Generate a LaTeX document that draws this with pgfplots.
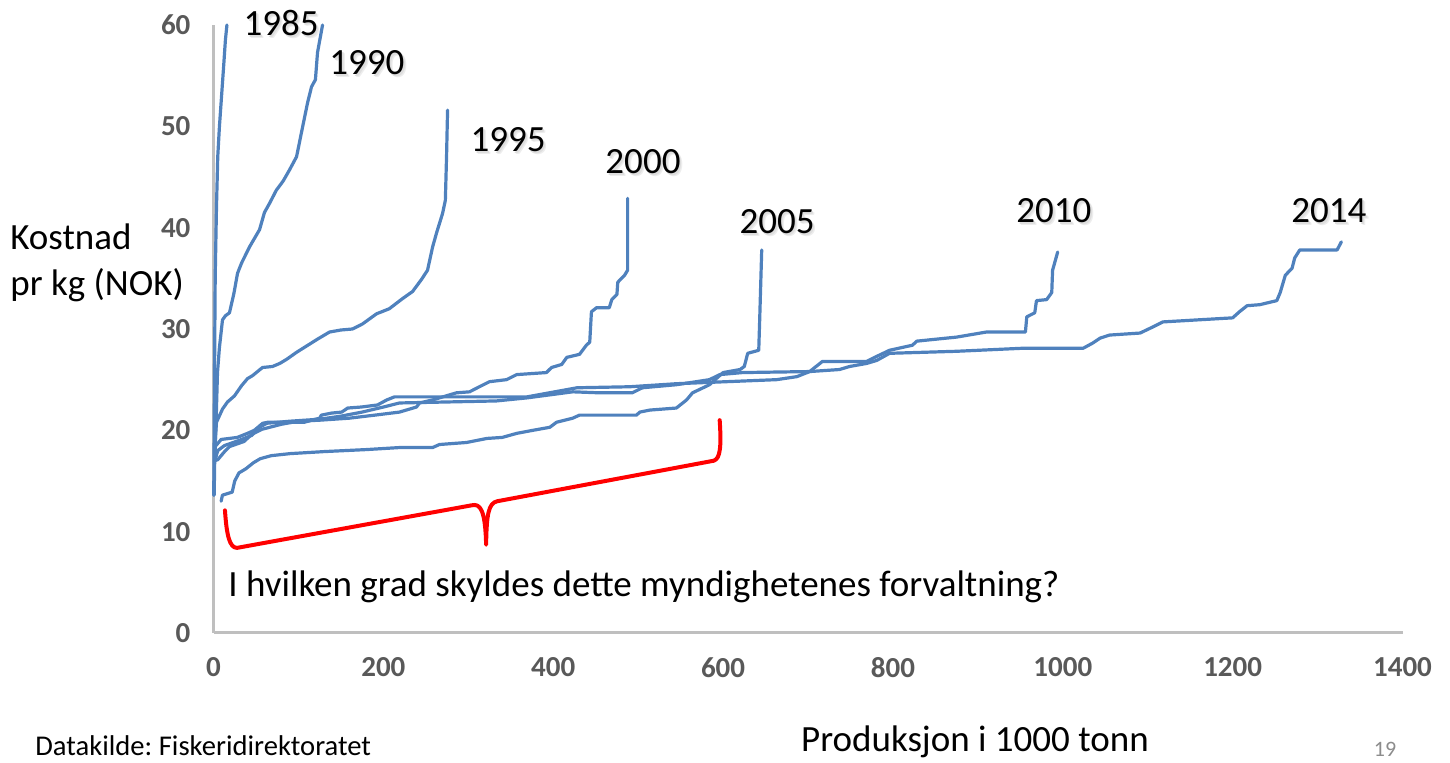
\documentclass[border=0pt]{standalone}
\usepackage{fontspec}
\setmainfont{Carlito}
\usepackage{pgfplots}
\pgfplotsset{compat=1.18}
\frenchspacing
\definecolor{lineblue}{RGB}{79,129,189}
\definecolor{axgray}{RGB}{191,191,191}
\definecolor{tickgray}{RGB}{89,89,89}
\newcommand{\bigf}{\fontsize{18.5}{20}\selectfont}
\newcommand{\yl}[3]{%
  \node[font=\bigf, text=black!7, inner sep=0pt, xshift=1.4pt, yshift=-1.5pt] at (axis cs:#1,#2) {#3};
  \node[font=\bigf, text=black!13, inner sep=0pt, xshift=0.8pt, yshift=-0.9pt] at (axis cs:#1,#2) {#3};
  \node[font=\bigf, text=black, inner sep=0pt] at (axis cs:#1,#2) {#3};}
\begin{document}
\begin{tikzpicture}
\useasboundingbox (0,0) rectangle (725pt,381.5pt);
\begin{axis}[
  at={(106.75pt,65pt)}, anchor=south west,
  scale only axis, width=594.5pt, height=304pt,
  xmin=0, xmax=1400, ymin=0, ymax=60,
  axis x line*=bottom, axis y line*=left,
  axis line style={draw=axgray, line width=1.5pt},
  xtick={0,200,...,1400}, ytick={0,10,...,60},
  major tick length=0pt,
  /pgf/number format/assume math mode=true,
  /pgf/number format/1000 sep={},
  tick label style={font=\fontsize{14.5}{16}\selectfont\bfseries, text=tickgray},
  xticklabel style={yshift=-8.7pt},
  yticklabel style={xshift=-8pt},
  clip=false,
  cc/.style={color=lineblue, line width=1.6pt, line join=round, line cap=round, mark=none},
]
% 1985
\addplot[cc] coordinates {(0.3,13.6) (0.8,20) (1.4,28) (2,35.1) (3.5,42) (5,47) (7,50) (9.5,53) (12,56) (14,58.5) (15.8,60)};
% 1990
\addplot[cc] coordinates {(0.8,13.6) (1.5,17.5) (3.2,21.3) (4.7,25.7) (7,28.2) (10.6,30.9) (14,31.3) (18.8,31.6) (24,33.5) (28.3,35.5) (33,36.5) (42.4,38.1) (54.2,39.8) (60,41.5) (66,42.4) (74,43.7) (82,44.6) (89.5,45.7) (97.8,47.0) (103.6,49.4) (110.7,52.3) (115.4,53.9) (120,54.6) (122.5,57.3) (128.4,60)};
% 1995
\addplot[cc] coordinates {(1.5,17) (2.5,19.5) (3.5,20.8) (10.6,22.1) (16.5,22.8) (24.7,23.4) (33,24.4) (40,25.1) (46,25.4) (57.7,26.2) (69.5,26.3) (78,26.6) (86,27.0) (97.8,27.7) (113,28.5) (122.5,29.0) (136.6,29.7) (150,29.9) (163.7,30.0) (175.5,30.5) (192,31.5) (207,32.0) (222.6,33.0) (234.4,33.7) (245,34.9) (252,35.8) (258,38.1) (262.7,39.5) (269.7,41.4) (273,42.7) (274.4,47.0) (275.6,51.6)};
% 2000
\addplot[cc] coordinates {(1,17) (5,17.1) (13,17.9) (19,18.4) (36,18.9) (45,19.6) (57,20.1) (80,20.6) (100,20.9) (125,21.0) (160,21.2) (190,21.5) (219,21.8) (239,22.3) (242.6,22.7) (258,23.0) (286,23.7) (301.5,23.8) (313,24.3) (325,24.8) (345,25.0) (357,25.5) (392,25.7) (398,26.2) (410,26.5) (416,27.2) (431,27.5) (439,28.4) (443,28.7) (445,31.7) (451,32.1) (466,32.1) (469,32.9) (475,33.4) (476,34.6) (478,34.8) (484,35.3) (487.6,35.8) (487.6,42.9)};
% 2005
\addplot[cc] coordinates {(9,13.0) (10.5,13.6) (22,13.9) (25,15.0) (30,15.8) (38,16.2) (47,16.8) (55,17.2) (68,17.5) (90,17.7) (130,17.9) (180,18.1) (219,18.3) (258,18.3) (266,18.6) (298,18.8) (322,19.2) (340,19.3) (357,19.7) (376,20.0) (396,20.3) (404,20.8) (423,21.2) (431,21.5) (498,21.5) (502,21.8) (514,22.0) (545,22.2) (557,23.0) (564,23.7) (584,24.5) (600,25.7) (620,26.0) (625,26.3) (629,27.6) (642,27.9) (643,30.6) (645.5,37.8)};
% 2010
\addplot[cc] coordinates {(2,17.1) (5,18.0) (13,18.5) (30,19.0) (45,19.5) (54,20.3) (63,20.7) (90,20.9) (125,21.1) (150,21.4) (175,21.8) (200,22.3) (219,22.7) (333,22.9) (369,23.2) (423,23.8) (455,23.7) (493,23.7) (505,24.2) (545,24.5) (584,25.0) (596,25.5) (623,25.7) (702,25.8) (717,26.8) (769,26.8) (781,27.3) (796,27.9) (823,28.4) (828,28.8) (875,29.2) (910,29.7) (956,29.7) (957.6,31.2) (967,31.6) (969,32.8) (981,32.9) (987,33.6) (988,35.8) (994,37.6)};
% 2014
\addplot[cc] coordinates {(3,18.5) (5,18.7) (9,19.1) (28,19.3) (40,19.7) (48,20.0) (58,20.7) (64,20.8) (107,20.8) (125,21.2) (127,21.5) (139,21.7) (151,21.8) (158,22.2) (174,22.3) (193,22.5) (204,23.0) (213,23.3) (369,23.3) (428,24.2) (490,24.3) (545,24.6) (604,24.8) (663,25.0) (687,25.3) (702,25.8) (737,26.0) (749,26.3) (769,26.6) (781,26.9) (796,27.6) (875,27.8) (953,28.1) (1024,28.1) (1035,28.6) (1044,29.1) (1055,29.4) (1091,29.6) (1106,30.2) (1118,30.7) (1200,31.1) (1208,31.7) (1217,32.3) (1232,32.4) (1252,32.8) (1256,33.6) (1262,35.3) (1270,36.0) (1273,37.0) (1279,37.8) (1323,37.8) (1328,38.6)};
% year labels
\yl{79.5}{60.2}{1985}
\yl{180.7}{56.25}{1990}
\yl{346.8}{48.65}{1995}
\yl{505.7}{46.5}{2000}
\yl{663.5}{40.6}{2005}
\yl{989.6}{41.7}{2010}
\yl{1313.4}{41.7}{2014}
% red brace
\draw[red, line width=2pt, line join=round, line cap=round]
  (axis cs:13.5,12.1) .. controls (axis cs:15.5,9.6) and (axis cs:19,8.4) .. (axis cs:27.7,8.4)
  -- (axis cs:304,12.6) .. controls (axis cs:314,12.8) and (axis cs:320,12.2) .. (axis cs:321,8.7)
  .. controls (axis cs:321.5,11.8) and (axis cs:324,12.8) .. (axis cs:334,13.0)
  -- (axis cs:589,17.0) .. controls (axis cs:597,17.2) and (axis cs:598,18.5) .. (axis cs:596,21.0);
\node[anchor=base west, inner sep=0pt, font=\bigf] at (axis cs:17,3.65) {I hvilken grad skyldes dette myndighetenes forvaltning?};
\end{axis}
\node[anchor=base west, inner sep=0pt, font=\bigf] at (5pt,256.5pt) {Kostnad};
\node[anchor=base west, inner sep=0pt, font=\bigf] at (5pt,233.5pt) {pr kg (NOK)};
\node[anchor=base, inner sep=0pt, font=\bigf] at (487.5pt,5.5pt) {Produksjon i 1000 tonn};
\node[anchor=base west, inner sep=0pt, font=\fontsize{14.3}{16}\selectfont] at (17.5pt,3.5pt) {Datakilde: Fiskeridirektoratet};
\node[anchor=base, inner sep=0pt, font=\fontsize{11}{13}\selectfont, text=black!45] at (692.5pt,3pt) {19};
\end{tikzpicture}
\end{document}
